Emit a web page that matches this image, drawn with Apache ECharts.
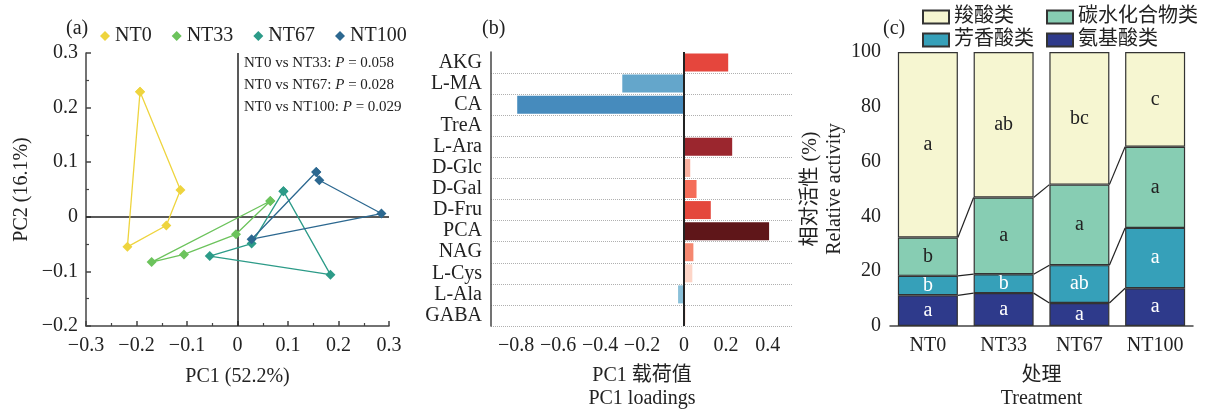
<!DOCTYPE html>
<html>
<head>
<meta charset="utf-8">
<script src="https://cdn.jsdelivr.net/npm/echarts@6/dist/echarts.min.js"></script>
<style>
html, body { margin: 0; padding: 0; background: #fff; }
#main { width: 1212px; height: 414px; }
</style>
</head>
<body>
<div id="main"></div>
<script>
// (a) PCA scores
var groups = ['NT0', 'NT33', 'NT67', 'NT100'];
var nt0Pts = [[-0.193, 0.229], [-0.113, 0.049], [-0.141, -0.016], [-0.218, -0.055]];
var nt33Pts = [[0.065, 0.029], [-0.003, -0.032], [-0.106, -0.069], [-0.170, -0.083]];
var nt67Pts = [[0.091, 0.047], [0.184, -0.106], [-0.055, -0.072], [0.028, -0.049]];
var nt100Pts = [[0.156, 0.082], [0.162, 0.067], [0.285, 0.006], [0.028, -0.041]];
var pTests = [['NT0 vs NT33: ', '0.058'], ['NT0 vs NT67: ', '0.028'], ['NT0 vs NT100: ', '0.029']];
var pc1MinorTicks = [-0.25, -0.15, -0.05, 0.05, 0.15, 0.25];
var pc2MinorTicks = [-0.15, -0.05, 0.05, 0.15, 0.25];

// (b) PC1 loadings
var metabolites = ['AKG', 'L-MA', 'CA', 'TreA', 'L-Ara', 'D-Glc', 'D-Gal', 'D-Fru', 'PCA', 'NAG', 'L-Cys', 'L-Ala', 'GABA'];
var loadings = [0.211, -0.294, -0.795, -0.005, 0.230, 0.030, 0.060, 0.128, 0.406, 0.045, 0.040, -0.028, 0.008];
var loadLabelTicks = [-0.8, -0.6, -0.4, -0.2, 0, 0.2, 0.4];
var loadMinorTicks = [-0.9, -0.7, -0.5, -0.3, -0.1, 0.1, 0.3, 0.5];

// (c) relative activity
var treatments = ['NT0', 'NT33', 'NT67', 'NT100'];
var amino = [11.2, 12.0, 8.4, 13.8];
var aromatic = [7.1, 6.9, 13.8, 22.0];
var carbo = [14.0, 28.0, 29.4, 29.6];
var carboxyl = [67.7, 53.1, 48.4, 34.6];
var aminoSig = ['a', 'a', 'a', 'a'];
var aromaticSig = ['b', 'b', 'ab', 'a'];
var carboSig = ['b', 'a', 'a', 'a'];
var carboxylSig = ['a', 'ab', 'bc', 'c'];
var actMinorTicks = [10, 30, 50, 70, 90];

var serif = "'Liberation Serif', 'Noto Sans CJK SC', serif";
var groupColors = ['#eed43e', '#6cc35c', '#2c9b88', '#2c6890'];
var barColors = ['#e5463d', '#64a6cb', '#468bbd', '#d6e6f0', '#9b262e', '#f9b09f', '#f46d59',
                 '#e4473c', '#5f1619', '#f5876f', '#fdd5c7', '#8ac0d9', '#fde4dc'];
var barW = 60;

function numFmt(v) {
    if (Math.abs(v) < 1e-9) return '0';
    return (v < 0 ? '\u2212' : '') + Math.abs(v).toFixed(1);
}

var axisLineStyle = { color: '#444', width: 1.5 };
var labelStyle = { color: '#222', fontSize: 20, fontFamily: serif };

// hidden overlay axis that only draws short inside ticks
function minorAxis(grid, pos, min, max, ticks) {
    return {
        type: 'value', gridIndex: grid, position: pos, min: min, max: max,
        axisLine: { show: false, onZero: false },
        axisTick: { inside: true, length: 3, customValues: ticks, lineStyle: { color: '#444', width: 1.2 } },
        axisLabel: { show: false },
        splitLine: { show: false }
    };
}

// closed polygons
function closed(pts) {
    return pts.concat([pts[0]]);
}
var ptsList = [nt0Pts, nt33Pts, nt67Pts, nt100Pts];

var series = [];
groups.forEach(function (g, i) {
    var s = {
        name: g,
        type: 'line',
        xAxisIndex: 0,
        yAxisIndex: 0,
        data: closed(ptsList[i]),
        symbol: 'diamond',
        symbolSize: 10,
        showAllSymbol: true,
        color: groupColors[i],
        lineStyle: { width: 1.3, color: groupColors[i] },
        itemStyle: { color: groupColors[i] },
        z: 5
    };
    if (i == 0) {
        s.markLine = {
            silent: true,
            symbol: 'none',
            label: { show: false },
            lineStyle: { color: '#222', width: 1.5, type: 'solid' },
            data: [{ xAxis: 0 }, { yAxis: 0 }]
        };
    }
    series.push(s);
});

series.push({
    type: 'bar',
    xAxisIndex: 1,
    yAxisIndex: 1,
    barWidth: 18,
    data: loadings.map(function (v, i) {
        return { value: v, itemStyle: { color: barColors[i] } };
    }),
    markLine: {
        silent: true,
        symbol: 'none',
        label: { show: false },
        lineStyle: { color: '#222', width: 2, type: 'solid' },
        data: [{ xAxis: 0 }]
    },
    z: 3
});

var stackDefs = [
    { name: '氨基酸类', data: amino, sig: aminoSig, color: '#2e3a8b', text: '#fff' },
    { name: '芳香酸类', data: aromatic, sig: aromaticSig, color: '#36a0b9', text: '#fff' },
    { name: '碳水化合物类', data: carbo, sig: carboSig, color: '#87cdb3', text: '#222' },
    { name: '羧酸类', data: carboxyl, sig: carboxylSig, color: '#f6f6d1', text: '#222' }
];
stackDefs.forEach(function (d) {
    series.push({
        name: d.name,
        type: 'bar',
        stack: 'act',
        xAxisIndex: 3,
        yAxisIndex: 2,
        barWidth: barW,
        data: d.data,
        itemStyle: { color: d.color, borderColor: '#333', borderWidth: 1.2 },
        label: {
            show: true,
            position: 'inside',
            color: d.text,
            fontSize: 20,
            fontFamily: serif,
            formatter: function (p) { return d.sig[p.dataIndex]; }
        }
    });
});

// cumulative tops for connector lines
var cum1 = amino.map(function (v, i) { return v; });
var cum2 = amino.map(function (v, i) { return v + aromatic[i]; });
var cum3 = amino.map(function (v, i) { return v + aromatic[i] + carbo[i]; });
var cums = [cum1, cum2, cum3];

series.push({
    type: 'custom',
    xAxisIndex: 3,
    yAxisIndex: 2,
    silent: true,
    data: [[0, 0], [1, 0], [2, 0]],
    renderItem: function (params, api) {
        var i = api.value(0);
        var children = [];
        cums.forEach(function (arr) {
            var p1 = api.coord([i, arr[i]]);
            var p2 = api.coord([i + 1, arr[i + 1]]);
            children.push({
                type: 'line',
                shape: { x1: p1[0] + barW / 2, y1: p1[1], x2: p2[0] - barW / 2, y2: p2[1] },
                style: { stroke: '#222', lineWidth: 1.2 }
            });
        });
        return { type: 'group', children: children };
    },
    z: 6
});

var mychart = echarts.init(document.getElementById('main'));
var option = {
    backgroundColor: '#fff',
    animation: false,
    grid: [
        { left: 86, top: 53, width: 303, height: 273, outerBoundsMode: 'none' },
        { left: 491, top: 52, width: 302, height: 274, outerBoundsMode: 'none' },
        { left: 890, top: 52, width: 303, height: 274, outerBoundsMode: 'none' }
    ],
    legend: [
        {
            data: groups,
            left: 95,
            top: 21,
            icon: 'diamond',
            itemWidth: 10,
            itemHeight: 10,
            itemGap: 20,
            textStyle: { fontSize: 20, fontFamily: serif, color: '#222' }
        },
        {
            data: ['羧酸类', '芳香酸类'],
            orient: 'vertical',
            left: 917,
            top: 2,
            icon: 'rect',
            itemWidth: 26,
            itemHeight: 13,
            itemGap: 3,
            textStyle: { fontSize: 20, fontFamily: serif, color: '#222' }
        },
        {
            data: ['碳水化合物类', '氨基酸类'],
            orient: 'vertical',
            left: 1041,
            top: 2,
            icon: 'rect',
            itemWidth: 26,
            itemHeight: 13,
            itemGap: 3,
            textStyle: { fontSize: 20, fontFamily: serif, color: '#222' }
        }
    ],
    xAxis: [
        {
            type: 'value', gridIndex: 0, position: 'bottom', min: -0.3, max: 0.3, interval: 0.1,
            name: 'PC1 (52.2%)', nameLocation: 'middle', nameGap: 41,
            nameTextStyle: labelStyle,
            axisLine: { onZero: false, lineStyle: axisLineStyle },
            axisTick: { inside: true, length: 5, lineStyle: axisLineStyle },
            axisLabel: { formatter: numFmt, margin: 10, color: '#222', fontSize: 20, fontFamily: serif },
            splitLine: { show: false }
        },
        {
            type: 'value', gridIndex: 1, position: 'bottom', min: -0.92, max: 0.52,
            name: 'PC1 载荷值\nPC1 loadings', nameLocation: 'middle', nameGap: 38,
            nameTextStyle: { color: '#222', fontSize: 20, fontFamily: serif, lineHeight: 23 },
            axisLine: { onZero: false, lineStyle: axisLineStyle },
            axisTick: { inside: true, length: 5, customValues: loadLabelTicks, lineStyle: axisLineStyle },
            axisLabel: { customValues: loadLabelTicks, formatter: numFmt, margin: 10, color: '#222', fontSize: 20, fontFamily: serif },
            splitLine: { show: false }
        },
        minorAxis(1, 'bottom', -0.92, 0.52, loadMinorTicks),
        {
            type: 'category', gridIndex: 2, position: 'bottom', data: treatments,
            name: '处理\nTreatment', nameLocation: 'middle', nameGap: 38,
            nameTextStyle: { color: '#222', fontSize: 20, fontFamily: serif, lineHeight: 23 },
            axisLine: { onZero: false, lineStyle: axisLineStyle },
            axisTick: { inside: true, alignWithLabel: true, length: 4, lineStyle: axisLineStyle },
            axisLabel: { margin: 10, color: '#222', fontSize: 20, fontFamily: serif }
        },
        minorAxis(0, 'bottom', -0.3, 0.3, pc1MinorTicks)
    ],
    yAxis: [
        {
            type: 'value', gridIndex: 0, position: 'left', min: -0.2, max: 0.3, interval: 0.1,
            name: 'PC2 (16.1%)', nameLocation: 'middle', nameGap: 54,
            nameTextStyle: labelStyle,
            axisLine: { onZero: false, lineStyle: axisLineStyle },
            axisTick: { inside: true, length: 5, lineStyle: axisLineStyle },
            axisLabel: { formatter: numFmt, margin: 8, color: '#222', fontSize: 20, fontFamily: serif },
            splitLine: { show: false }
        },
        {
            type: 'category', gridIndex: 1, position: 'left', data: metabolites, inverse: true,
            axisLine: { onZero: false, lineStyle: axisLineStyle },
            axisTick: { show: false },
            axisLabel: { interval: 0, margin: 9, color: '#222', fontSize: 20, fontFamily: serif },
            splitLine: {
                show: true,
                interval: function (index) { return index !== 0; },
                lineStyle: { color: '#b0b0b0', type: 'dotted', width: 1 }
            }
        },
        {
            type: 'value', gridIndex: 2, position: 'left', min: 0, max: 100, interval: 20,
            name: '相对活性 (%)\nRelative activity', nameLocation: 'middle', nameGap: 30,
            nameTextStyle: { color: '#222', fontSize: 20, fontFamily: serif, lineHeight: 24 },
            axisLine: { onZero: false, lineStyle: axisLineStyle },
            axisTick: { inside: true, length: 5, lineStyle: axisLineStyle },
            axisLabel: { margin: 9, color: '#222', fontSize: 20, fontFamily: serif },
            splitLine: { show: false }
        },
        minorAxis(0, 'left', -0.2, 0.3, pc2MinorTicks),
        minorAxis(2, 'left', 0, 100, actMinorTicks)
    ],
    graphic: [
        { type: 'text', left: 66, top: 19, style: { text: '(a)', fontSize: 20, fontFamily: serif, fill: '#222' } },
        { type: 'text', left: 482, top: 19, style: { text: '(b)', fontSize: 20, fontFamily: serif, fill: '#222' } },
        { type: 'text', left: 883, top: 19, style: { text: '(c)', fontSize: 20, fontFamily: serif, fill: '#222' } }
    ].concat(pTests.map(function (t, i) {
        return {
            type: 'text', left: 244, top: 56 + i * 22,
            style: {
                text: '{n|' + t[0] + '}{i|P}{n| = ' + t[1] + '}',
                rich: {
                    n: { fontSize: 15, fontFamily: serif, fill: '#222', color: '#222' },
                    i: { fontSize: 15, fontFamily: serif, fontStyle: 'italic', fill: '#222', color: '#222' }
                }
            }
        };
    })),
    series: series
};
mychart.setOption(option);
</script>
</body>
</html>
